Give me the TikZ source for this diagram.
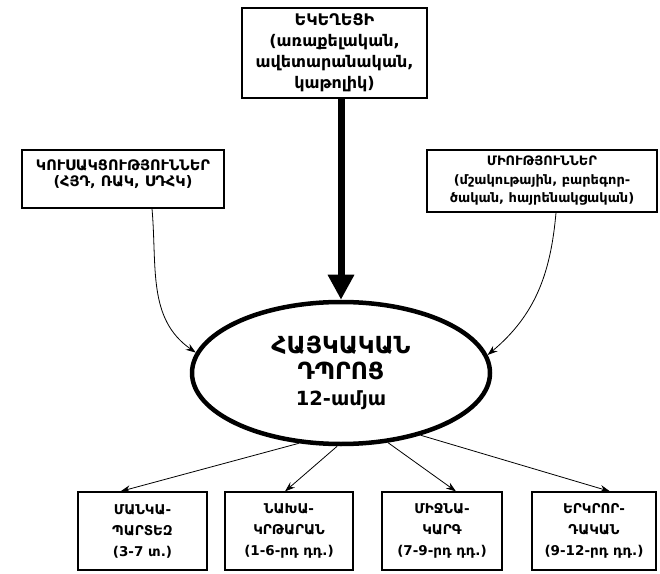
\documentclass[tikz,border=0pt]{standalone}
\usepackage{fontspec}
\setmainfont{DejaVu Sans}
\usetikzlibrary{arrows.meta, shapes.geometric}

\begin{document}
\begin{tikzpicture}[x=1pt, y=1pt,
  box/.style={draw, line width=1.2pt, align=center, inner sep=0pt},
  boxfont/.style 2 args={font=\bfseries\fontsize{#1}{#2}\selectfont},
  link/.style={-{Stealth[length=10pt, width=7pt]}, line width=0.8pt}]
  \useasboundingbox (0,0) rectangle (660,573);

  % Church on top
  \node[box, boxfont={16}{21}, minimum width=185, minimum height=90] (church) at (334.5,520)
    {ԵԿԵՂԵՑԻ\\(առաքելական,\\ավետարանական,\\կաթոլիկ)};
  % Parties and unions
  \node[box, boxfont={14.5}{16}, minimum width=202, minimum height=58, text depth=12pt]
    (parties) at (123,394) {ԿՈՒՍԱԿՑՈՒԹՅՈՒՆՆԵՐ\\(ՀՅԴ, ՌԱԿ, ՍԴՀԿ)};
  \node[box, boxfont={13}{18.5}, minimum width=230, minimum height=62] (unions) at (542,392)
    {ՄԻՈՒԹՅՈՒՆՆԵՐ\\(մշակութային, բարեգոր-\\ծական, հայրենակցական)};

  % School
  \node[ellipse, draw, line width=4.5pt, minimum width=298, minimum height=142,
    align=center, font=\bfseries\fontsize{23.5}{26}\selectfont] (school) at (341,200)
    {ՀԱՅԿԱԿԱՆ\\ԴՊՐՈՑ\\{\fontsize{19.5}{26}\selectfont 12-ամյա}};

  % Levels of the school
  \node[box, boxfont={13.5}{21}, minimum width=129, minimum height=78] (kinder) at (142.5,42)
    {ՄԱՆԿԱ-\\ՊԱՐՏԵԶ\\(3-7 տ.)};
  \node[box, boxfont={13.5}{21}, minimum width=128, minimum height=78] (primary) at (289,42)
    {ՆԱԽԱ-\\ԿՐԹԱՐԱՆ\\(1-6-րդ դդ.)};
  \node[box, boxfont={13.5}{21}, minimum width=120, minimum height=78] (middle) at (442,42)
    {ՄԻՋՆԱ-\\ԿԱՐԳ\\(7-9-րդ դդ.)};
  \node[box, boxfont={13.5}{21}, minimum width=124, minimum height=78] (high) at (594,42)
    {ԵՐԿՐՈՐ-\\ԴԱԿԱՆ\\(9-12-րդ դդ.)};

  % Arrows
  \draw[line width=7pt, -{Triangle[length=25pt, width=25pt]}]
    (school.north |- church.south) -- (school.north);
  \draw[link] ([xshift=29pt]parties.south) to[out=-85, in=145] (school.172);
  \draw[link] ([xshift=14pt]unions.south) to[out=-95, in=40] (school.7);
  \draw[link] (school.239) -- ([xshift=-22pt]kinder.north);
  \draw[link] (school.267) -- ([xshift=-4pt]primary.north);
  \draw[link] (school.304) -- ([xshift=14pt]middle.north);
  \draw[link] (school.322) -- ([xshift=16pt]high.north);
\end{tikzpicture}
\end{document}
